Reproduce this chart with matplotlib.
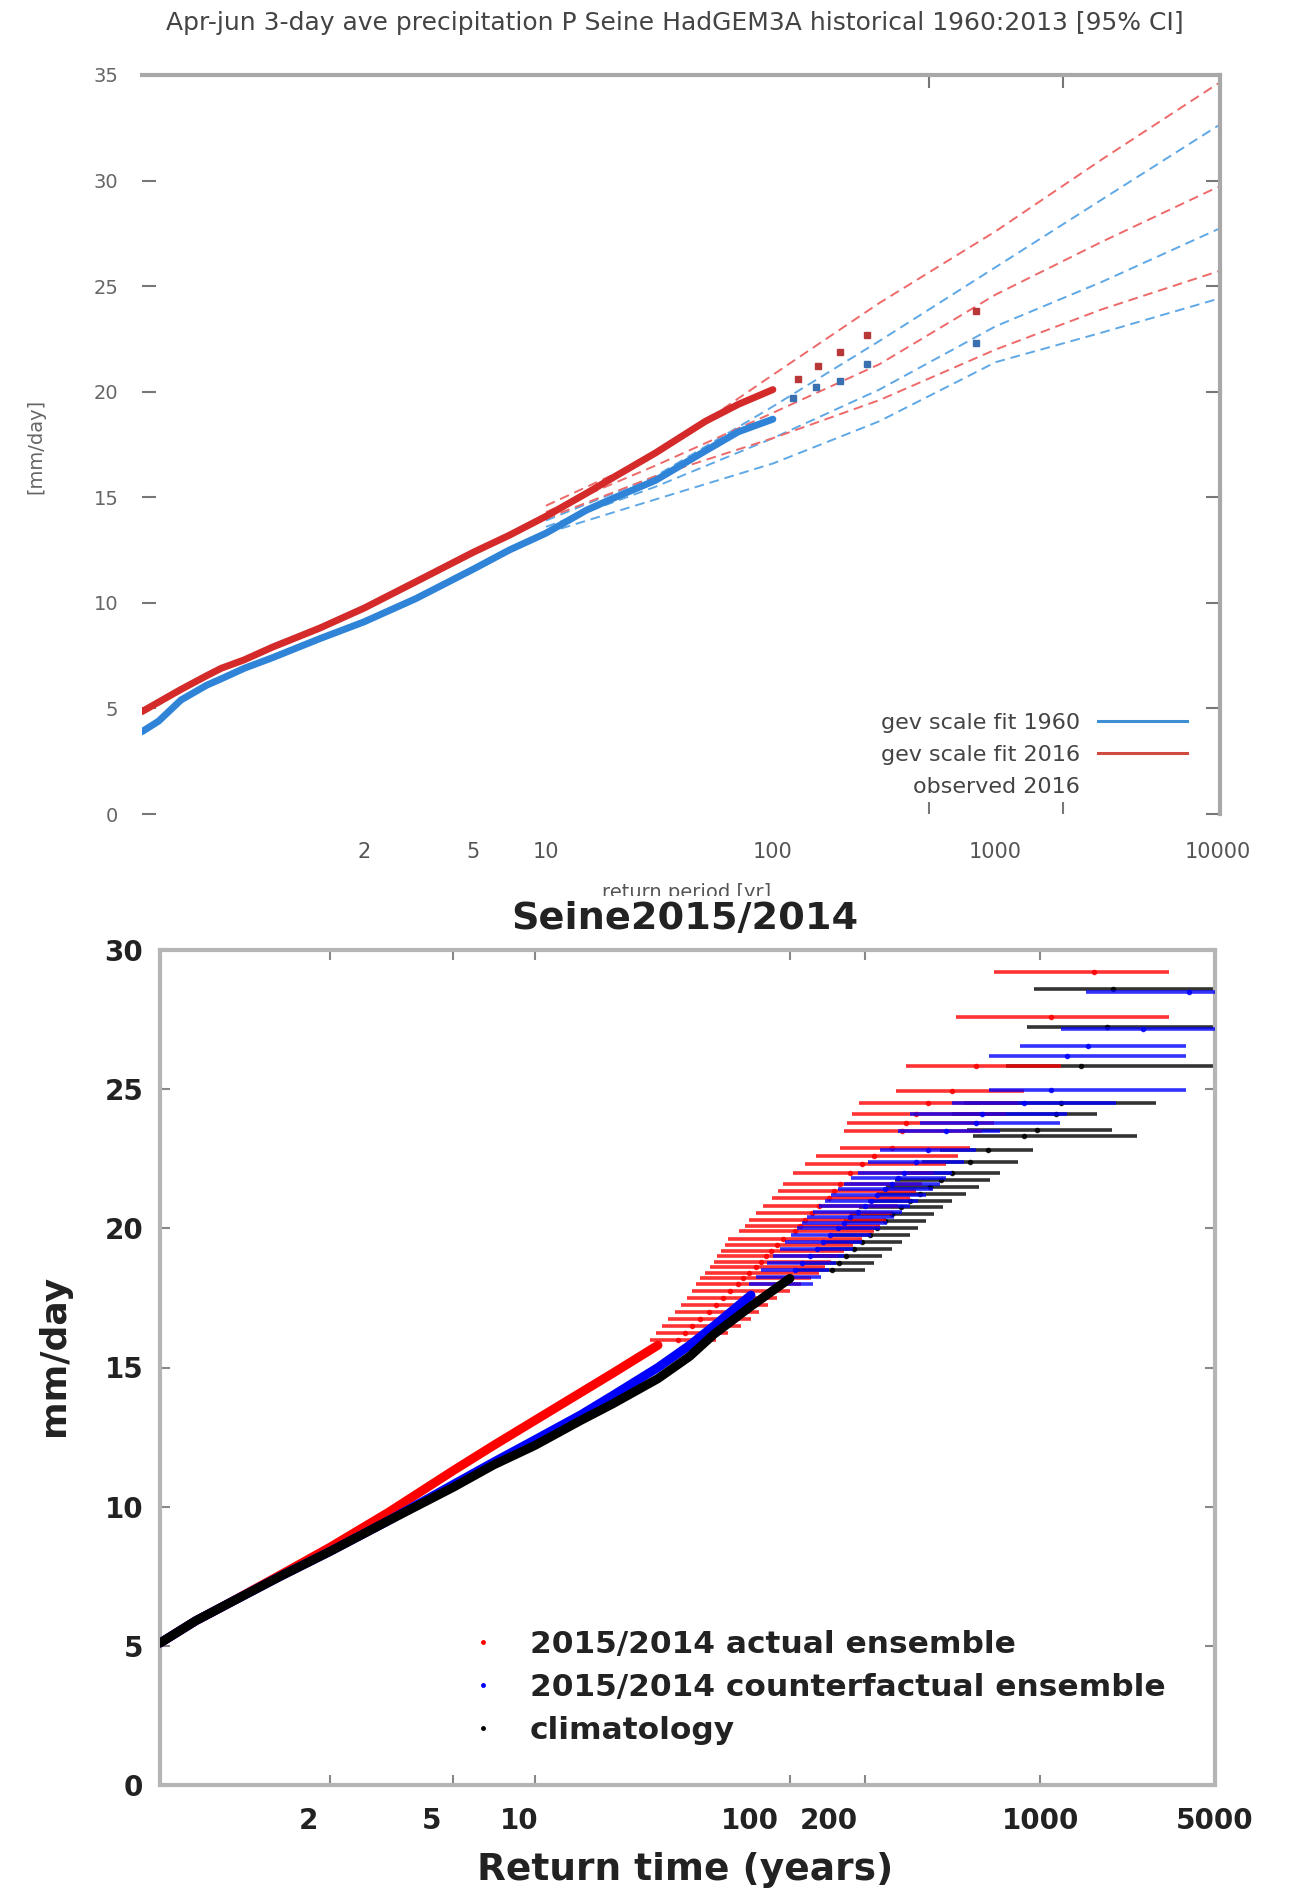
import numpy as np
import matplotlib
matplotlib.use('Agg')
import matplotlib.pyplot as plt
from matplotlib.lines import Line2D
from matplotlib.ticker import NullLocator
from matplotlib.transforms import Bbox, TransformedBbox, ScaledTranslation

W, H = 1290, 1891

# ---------------- top panel data (return period [yr] -> mm/day) ----------------
T_top = [1.001, 1.003, 1.01, 1.03, 1.05, 1.1, 1.2, 1.5, 2, 3, 5, 7, 10, 15, 20, 30, 50, 70, 100]
red_top = [4.85, 5.3, 5.9, 6.55, 6.9, 7.3, 7.9, 8.8, 9.75, 11.0, 12.4, 13.2, 14.1, 15.2, 16.0, 17.1, 18.6, 19.4, 20.1]
blue_top = [3.9, 4.4, 5.4, 6.1, 6.4, 6.9, 7.4, 8.3, 9.1, 10.2, 11.6, 12.5, 13.3, 14.4, 15.0, 15.8, 17.2, 18.1, 18.7]

T_obs_red = [130, 160, 200, 263, 818]
obs_red = [20.6, 21.2, 21.9, 22.7, 23.8]
T_obs_blue = [123, 156, 200, 263, 818]
obs_blue = [19.7, 20.2, 20.5, 21.3, 22.3]

T_fit = [10, 30, 100, 300, 1000, 3000, 10000]
fit2016_hi = [14.6, 17.0, 20.8, 24.2, 27.6, 31.0, 34.6]
fit2016_mid = [14.3, 16.5, 19.0, 21.3, 24.6, 27.1, 29.7]
fit2016_lo = [14.0, 16.0, 17.8, 19.6, 22.0, 23.9, 25.7]
fit1960_hi = [13.9, 16.0, 19.3, 22.4, 25.9, 29.1, 32.6]
fit1960_mid = [13.6, 15.5, 17.8, 20.1, 23.1, 25.2, 27.7]
fit1960_lo = [13.3, 14.9, 16.6, 18.6, 21.4, 22.8, 24.4]

top_xticks = [2, 5, 10, 100, 1000, 10000]
top_minor = [10, 100, 500, 2000]

# ---------------- bottom panel data ----------------
T_band = [1.037, 1.1, 1.2, 1.5, 2, 3, 5, 7, 10, 15, 20, 30, 40, 50, 70, 100]
clim_band = [5.1, 5.9, 6.5, 7.5, 8.4, 9.5, 10.7, 11.5, 12.2, 13.1, 13.7, 14.6, 15.4, 16.2, 17.2, 18.2]
cf_band = [5.1, 5.9, 6.5, 7.5, 8.4, 9.5, 10.8, 11.6, 12.4, 13.3, 14.0, 15.0, 15.8, 16.5, 17.6]
act_band = [5.1, 5.9, 6.5, 7.55, 8.55, 9.8, 11.3, 12.2, 13.1, 14.1, 14.8, 15.8]

# ensemble members in the tail: value, return time and its 95% range
act_val = [16.0, 16.25, 16.5, 16.75, 17.0, 17.25, 17.5, 17.75, 18.0, 18.2, 18.4, 18.6, 18.8,
           19.0, 19.2, 19.4, 19.6, 19.9, 20.1, 20.3, 20.55, 20.8, 21.1, 21.35, 21.6,
           22.0, 22.3, 22.6, 22.9, 23.5, 23.8, 24.1, 24.5, 24.95, 25.85, 27.6, 29.2]
act_c = [36, 38.5, 41, 44, 47.5, 51, 54, 58, 62, 65, 69, 73, 77,
         80, 84, 89, 94, 105, 110, 115, 123, 131, 143, 150, 158,
         173, 193, 216, 255, 279, 291, 318, 355, 444, 554, 1105, 1646]
act_lo = [28, 29.5, 31, 33, 35, 37, 39, 41, 42.5, 44, 46, 48, 50,
          51.5, 53, 55, 57, 63, 66, 69, 73, 78, 85, 90, 94,
          103, 115, 127, 158, 164, 169, 177, 189, 266, 291, 459, 654]
act_hi = [51, 57, 64, 70, 75.5, 82, 89, 100, 111, 121, 131, 138, 146,
          155, 164, 178, 193, 216, 228, 241, 255, 269, 301, 318, 336,
          376, 420, 469, 524, 585, 654, 731, 818, 864, 1207, 3276, 3276]

cf_val = [18.0, 18.25, 18.5, 18.75, 19.0, 19.25, 19.5, 19.75, 20.0, 20.2, 20.4, 20.6, 20.8,
          21.0, 21.2, 21.4, 21.6, 21.8, 22.0, 22.4, 22.8, 23.5, 23.8, 24.1, 24.5, 24.97,
          26.2, 26.55, 27.15, 28.5]
cf_c = [92, 98, 105, 112, 120, 128, 136, 145, 155, 164, 173, 186, 200,
        211, 223, 239, 255, 270, 285, 318, 355, 420, 554, 585, 864, 1105,
        1274, 1556, 2566, 3950]
cf_lo = [69, 73, 77, 81, 86, 91, 96, 101, 107, 112, 117, 124, 131,
         138, 146, 155, 164, 175, 187, 204, 228, 269, 329, 301, 444, 626,
         626, 826, 1207, 1523]
cf_hi = [124, 133, 143, 153, 164, 178, 193, 210, 228, 244, 261, 280, 301,
         324, 348, 372, 397, 420, 444, 496, 554, 692, 1194, 1274, 2012, 3828,
         3828, 3828, 9000, 9000]

clim_val = [18.5, 18.75, 19.0, 19.25, 19.5, 19.75, 20.0, 20.25, 20.5, 20.75, 21.0, 21.25,
            21.5, 21.75, 22.0, 22.4, 22.8, 23.3, 23.54, 24.1, 24.5, 25.84, 27.25, 28.6]
clim_c = [147, 157, 167, 180, 193, 208, 223, 239, 255, 278, 301, 331,
          363, 400, 444, 524, 619, 864, 966, 1153, 1207, 1455, 1850, 1950]
clim_lo = [107, 115, 124, 131, 139, 147, 155, 164, 173, 188, 204, 222,
           241, 262, 285, 337, 397, 536, 507, 444, 496, 731, 884, 945]
clim_hi = [200, 216, 233, 255, 279, 301, 325, 350, 376, 410, 444, 503,
           567, 628, 692, 818, 934, 2428, 1944, 1683, 2900, 9000, 9000, 9000]

bot_xticks = [2, 5, 10, 100, 200, 1000, 5000]
# the labels in the original sit a bit left of their tick marks (points)
bot_label_nudge = [-15.6, -15.6, -11.3, -28.6, -26.0, 0, 0]


# Gumbel return-period axis
def gumbel(T):
    T = np.asarray(T, dtype=float)
    with np.errstate(all='ignore'):
        g = -np.log(-np.log1p(-1.0 / T))
    return np.where(T > 1, g, -50.0)


def gumbel_inv(g):
    g = np.asarray(g, dtype=float)
    with np.errstate(all='ignore'):
        return 1.0 / (-np.expm1(-np.exp(-g)))


fig = plt.figure(figsize=(W / 100, H / 100), dpi=100)

# ================= top panel =================
ax1 = fig.add_axes([142 / W, 1 - 814 / H, 1078 / W, 739 / H])
ax1.set_xscale('function', functions=(gumbel, gumbel_inv))

ax1.plot(T_top, blue_top, color='#2f84d8', lw=5, solid_capstyle='round', zorder=3)
ax1.plot(T_top, red_top, color='#d42a2a', lw=5, solid_capstyle='round', zorder=3)

dash = (0, (5, 3))
for vals in (fit1960_hi, fit1960_mid, fit1960_lo):
    ax1.plot(T_fit, vals, color='#5fa8e6', lw=1.4, ls=dash, zorder=2)
for vals in (fit2016_hi, fit2016_mid, fit2016_lo):
    ax1.plot(T_fit, vals, color='#ee6a6a', lw=1.4, ls=dash, zorder=2)

ax1.plot(T_obs_red, obs_red, 's', ms=4, color='#b83838', zorder=4)
ax1.plot(T_obs_blue, obs_blue, 's', ms=4, color='#3a6fb0', zorder=4)

ax1.set_xlim(1.001, 10200)
ax1.set_ylim(0, 35)
for s in ('left', 'bottom'):
    ax1.spines[s].set_visible(False)
for s in ('top', 'right'):
    ax1.spines[s].set_color('#a8a8a8')
    ax1.spines[s].set_linewidth(3)

ax1.set_xticks(top_xticks, labels=[str(t) for t in top_xticks])
ax1.set_xticks(top_minor, minor=True)
ax1.tick_params(axis='x', which='major', length=0, pad=20, labelsize=15, labelcolor='#555555')
ax1.tick_params(axis='x', which='minor', direction='in', top=True, bottom=True,
                length=9, width=1.5, color='#777777')
ax1.set_yticks(range(0, 36, 5))
ax1.yaxis.set_minor_locator(NullLocator())
ax1.tick_params(axis='y', direction='in', left=True, right=True, length=10, width=1.5,
                color='#777777', labelsize=14, labelcolor='#666666', pad=17)

leg1 = [Line2D([], [], color='#3d8ed4', lw=2.2),
        Line2D([], [], color='#cf4b40', lw=2.2),
        Line2D([], [], ls='none')]
ax1.legend(leg1, ['gev scale fit 1960', 'gev scale fit 2016', 'observed 2016'],
           loc='upper right', bbox_to_anchor=(0.969, 0.137), frameon=False,
           markerfirst=False, fontsize=16, handlelength=4.0, handletextpad=0.8,
           labelspacing=0.55, borderpad=0, borderaxespad=0, labelcolor='#444444')

fig.text(0.523, 0.988, 'Apr-jun 3-day ave precipitation P Seine HadGEM3A historical 1960:2013 [95% CI]',
         ha='center', va='center', fontsize=18, color='#444444')
fig.text(0.028, 0.764, '[mm/day]', rotation=90, ha='center', va='center',
         fontsize=14, color='#666666')
xl = fig.text(687 / W, 1 - 892 / H, 'return period [yr]', ha='center', va='center',
              fontsize=14, color='#555555')
xl.set_clip_box(TransformedBbox(Bbox([[0, 1 - 896 / H], [1, 1]]), fig.transFigure))
xl.set_clip_on(True)

# ================= bottom panel =================
ax2 = fig.add_axes([160 / W, 1 - 1785 / H, 1055 / W, 835 / H])
ax2.set_xscale('function', functions=(gumbel, gumbel_inv))


def bars(c, v, lo, hi, col, z):
    c = np.asarray(c, float)
    ax2.errorbar(c, v, xerr=[c - np.asarray(lo, float), np.asarray(hi, float) - c],
                 fmt='o', ms=3, color=col, ecolor=col, elinewidth=2.6, capsize=0,
                 alpha=0.8, zorder=z)


bars(clim_c, clim_val, clim_lo, clim_hi, 'black', 2.2)
bars(act_c, act_val, act_lo, act_hi, '#ff0000', 2.4)
bars(cf_c, cf_val, cf_lo, cf_hi, '#0000ff', 2.6)

ax2.plot(T_band[:len(act_band)], act_band, color='#ff0000', lw=6.5, solid_capstyle='round', zorder=3)
ax2.plot(T_band[:len(cf_band)], cf_band, color='#0000ff', lw=6.5, solid_capstyle='round', zorder=3.1)
ax2.plot(T_band, clim_band, color='black', lw=6.5, solid_capstyle='round', zorder=3.2)

ax2.set_xlim(1.037, 5000)
ax2.set_ylim(0, 30)
for s in ax2.spines.values():
    s.set_color('#b5b5b5')
    s.set_linewidth(3)

ax2.set_xticks(bot_xticks, labels=[str(t) for t in bot_xticks])
ax2.xaxis.set_minor_locator(NullLocator())
ax2.set_yticks(range(0, 31, 5))
ax2.yaxis.set_minor_locator(NullLocator())
ax2.tick_params(direction='in', top=True, right=True, length=7, width=1.5, color='#888888',
                labelsize=20, labelcolor='#222222')
ax2.tick_params(axis='x', pad=16)
ax2.tick_params(axis='y', pad=12)
for lab in ax2.get_xticklabels() + ax2.get_yticklabels():
    lab.set_fontweight('bold')
for lab, dx in zip(ax2.get_xticklabels(), bot_label_nudge):
    lab.set_transform(lab.get_transform() + ScaledTranslation(dx / 72, 0, fig.dpi_scale_trans))

ax2.set_xlabel('Return time (years)', fontsize=27, fontweight='bold', color='#222222', va='center')
ax2.set_ylabel('mm/day', fontsize=26, fontweight='bold', color='#222222', va='center')
ax2.xaxis.set_label_coords(0.498, -0.102)
ax2.yaxis.set_label_coords(-0.100, 0.514)

fig.text(0.531, 1 - 919 / H, 'Seine2015/2014', ha='center', va='center',
         fontsize=27.5, fontweight='bold', color='#222222')

leg2 = [Line2D([], [], ls='none', marker='.', ms=5, color=c) for c in ('#ff0000', '#0000ff', 'black')]
ax2.legend(leg2, ['2015/2014 actual ensemble', '2015/2014 counterfactual ensemble', 'climatology'],
           loc='upper left', bbox_to_anchor=(0.294, 0.186), frameon=False,
           prop={'size': 22.5, 'weight': 'bold'}, handlelength=0.8, handletextpad=1.1,
           labelspacing=0.45, borderpad=0, borderaxespad=0, labelcolor='#222222')

fig.savefig('out.png', dpi=100, facecolor='white')
